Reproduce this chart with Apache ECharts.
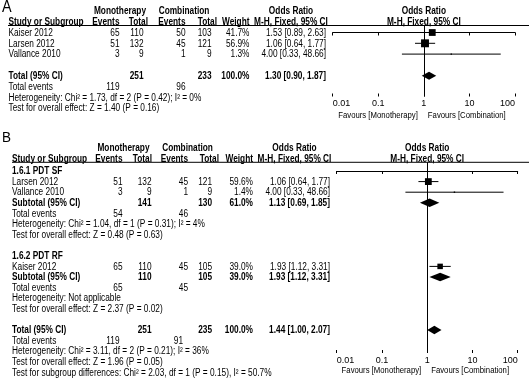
<!DOCTYPE html>
<html><head><meta charset="utf-8">
<script src="https://cdn.jsdelivr.net/npm/echarts@6/dist/echarts.min.js"></script>
<style>html,body{margin:0;padding:0;background:#fff}#c{width:529px;height:386px}</style>
</head><body><div id="c"></div>
<script>
// ---------------- DATA ----------------
const tickValues = [0.01, 0.1, 1, 10, 100];
const tickLabels = ['0.01', '0.1', '1', '10', '100'];
const favourLabels = ['Favours [Monotherapy]', 'Favours [Combination]'];

// Panel A
const aStudies    = ['Kaiser 2012', 'Larsen 2012', 'Vallance 2010'];
const aMonoEvents = [65, 51, 3];
const aMonoTotal  = [110, 132, 9];
const aCombEvents = [50, 45, 1];
const aCombTotal  = [103, 121, 9];
const aWeight     = [41.7, 56.9, 1.3];
const aOR         = [1.53, 1.06, 4.00];
const aLow        = [0.89, 0.64, 0.33];
const aHigh       = [2.63, 1.77, 48.66];
const aTotalN      = [251, 233];      // mono total, comb total
const aTotalEvents = [119, 96];
const aTotalEst    = [1.30, 0.90, 1.87];
const aTotalWeight = 100.0;
const aHet  = 'Heterogeneity: Chi² = 1.73, df = 2 (P = 0.42); I² = 0%';
const aTest = 'Test for overall effect: Z = 1.40 (P = 0.16)';

// Panel B
const bGroups = ['1.6.1 PDT SF', '1.6.2 PDT RF'];
const bStudies    = ['Larsen 2012', 'Vallance 2010', 'Kaiser 2012'];
const bGroupOf    = [0, 0, 1];
const bMonoEvents = [51, 3, 65];
const bMonoTotal  = [132, 9, 110];
const bCombEvents = [45, 1, 45];
const bCombTotal  = [121, 9, 105];
const bWeight     = [59.6, 1.4, 39.0];
const bOR         = [1.06, 4.00, 1.93];
const bLow        = [0.64, 0.33, 1.12];
const bHigh       = [1.77, 48.66, 3.31];
const bSubN       = [[141, 130], [110, 105]];
const bSubWeight  = [61.0, 39.0];
const bSubEst     = [[1.13, 0.69, 1.85], [1.93, 1.12, 3.31]];
const bSubEvents  = [[54, 46], [65, 45]];
const bSubHet     = ['Heterogeneity: Chi² = 1.04, df = 1 (P = 0.31); I² = 4%', 'Heterogeneity: Not applicable'];
const bSubTest    = ['Test for overall effect: Z = 0.48 (P = 0.63)', 'Test for overall effect: Z = 2.37 (P = 0.02)'];
const bTotalN      = [251, 235];
const bTotalEvents = [119, 91];
const bTotalEst    = [1.44, 1.00, 2.07];
const bTotalWeight = 100.0;
const bHet  = 'Heterogeneity: Chi² = 3.11, df = 2 (P = 0.21); I² = 36%';
const bTest = 'Test for overall effect: Z = 1.96 (P = 0.05)';
const bSubTestDiff = 'Test for subgroup differences: Chi² = 2.03, df = 1 (P = 0.15), I² = 50.7%';

// ---------------- LAYOUT ----------------
const W = 529, H = 386;
const FONT = '"Liberation Sans", Arial, sans-serif';
const SX = 0.83;
const LA = {left: 332.7, right: 14, top: 25.5, axisY: 96.5, ymin: -0.65, ymax: 5.93};
const LB = {left: 336.7, right: 11.3, top: 162.3, axisY: 353, ymin: -0.82, ymax: 17.17};
// row indices (layout)
const aStudyRows = [0, 1, 2], aTotalRow = 4;
const bStudyRows = [1, 2, 9], bTitleRows = [0, 8], bSubRows = [3, 10], bTotalRow = 15;

function rowY(L, r) { return L.top + (r - L.ymin) / (L.ymax - L.ymin) * (L.axisY - L.top); }
const fmt2 = v => v.toFixed(2);
const orText = (o, l, h) => `${fmt2(o)} [${fmt2(l)}, ${fmt2(h)}]`;

function squareRender(k) {
  return function (params, api) {
    const y = api.value(3);
    const p = api.coord([api.value(0), y]);
    const l = api.coord([api.value(1), y]);
    const h = api.coord([api.value(2), y]);
    const s = Math.max(1.4, k * Math.sqrt(api.value(4)));
    return {type: 'group', children: [
      {type: 'line', shape: {x1: l[0], y1: p[1], x2: h[0], y2: p[1]}, style: {stroke: '#000', lineWidth: 1}},
      {type: 'rect', shape: {x: p[0] - s / 2, y: p[1] - s / 2, width: s, height: s}, style: {fill: '#000'}}
    ]};
  };
}
function diamondRender(hh) {
  return function (params, api) {
    const y = api.value(3);
    const p = api.coord([api.value(0), y]);
    const l = api.coord([api.value(1), y]);
    const h = api.coord([api.value(2), y]);
    return {type: 'polygon', shape: {points: [[l[0], p[1]], [p[0], p[1] - hh], [h[0], p[1]], [p[0], p[1] + hh]]}, style: {fill: '#000'}};
  };
}
function tickFmt(v) {
  const i = tickValues.findIndex(t => Math.abs(Math.log10(t) - Math.log10(v)) < 1e-6);
  return i >= 0 ? tickLabels[i] : '';
}
function xAxes(grid) {
  const base = {gridIndex: grid, type: 'log', logBase: 10, min: tickValues[0], max: tickValues[tickValues.length - 1],
    position: 'bottom', splitLine: {show: false}, minorTick: {show: false}};
  return [
    Object.assign({}, base, {
      axisLine: {show: true, lineStyle: {color: '#000', width: 1}},
      axisTick: {show: true, inside: false, length: 3, lineStyle: {color: '#000'}},
      axisLabel: {show: true, formatter: tickFmt, color: '#000', fontSize: 9, fontFamily: FONT, margin: 3,
        alignMinLabel: 'left', alignMaxLabel: 'right'}
    }),
    Object.assign({}, base, {
      axisLine: {show: false},
      axisTick: {show: true, inside: true, length: 3, lineStyle: {color: '#000'}},
      axisLabel: {show: false}
    })
  ];
}
const vline = {silent: true, symbol: 'none', label: {show: false}, animation: false,
  lineStyle: {color: '#000', width: 1, type: 'solid'}, data: [{xAxis: 1}]};

const aSq = aStudies.map((_, i) => [aOR[i], aLow[i], aHigh[i], aStudyRows[i], aWeight[i]]);
const aDia = [[aTotalEst[0], aTotalEst[1], aTotalEst[2], aTotalRow]];
const bSq = bStudies.map((_, i) => [bOR[i], bLow[i], bHigh[i], bStudyRows[i], bWeight[i]]);
const bDia = bSubEst.map((e, g) => [e[0], e[1], e[2], bSubRows[g]]).concat([[bTotalEst[0], bTotalEst[1], bTotalEst[2], bTotalRow]]);

const chart = echarts.init(document.getElementById('c'));
chart.setOption({
  animation: false,
  backgroundColor: '#fff',
  grid: [
    {left: LA.left, right: LA.right, top: LA.top, bottom: H - LA.axisY, containLabel: false},
    {left: LB.left, right: LB.right, top: LB.top, bottom: H - LB.axisY, containLabel: false}
  ],
  xAxis: xAxes(0).concat(xAxes(1)),
  yAxis: [
    {gridIndex: 0, type: 'value', min: LA.ymin, max: LA.ymax, inverse: true, show: false},
    {gridIndex: 1, type: 'value', min: LB.ymin, max: LB.ymax, inverse: true, show: false}
  ],
  series: [
    {type: 'custom', xAxisIndex: 0, yAxisIndex: 0, data: aSq, encode: {x: 0, y: 3}, renderItem: squareRender(1.05), markLine: vline},
    {type: 'custom', xAxisIndex: 0, yAxisIndex: 0, data: aDia, encode: {x: 0, y: 3}, renderItem: diamondRender(4)},
    {type: 'custom', xAxisIndex: 2, yAxisIndex: 1, data: bSq, encode: {x: 0, y: 3}, renderItem: squareRender(0.88), markLine: vline},
    {type: 'custom', xAxisIndex: 2, yAxisIndex: 1, data: bDia, encode: {x: 0, y: 3}, renderItem: diamondRender(4.2)}
  ]
});

// ---------------- TEXT (graphic) ----------------
const G = [];
function T(x, y, s, align, bold, size, sx) {
  G.push({type: 'text', x: x, y: y, scaleX: sx === undefined ? SX : sx, silent: true,
    style: {text: String(s), fill: '#000', fontSize: size || 10, fontFamily: FONT, fontWeight: bold ? 'bold' : 'normal',
      textAlign: align || 'left', textVerticalAlign: 'middle'}});
}
function L(x1, y1, x2, y2) {
  G.push({type: 'line', silent: true, shape: {x1, y1, x2, y2}, style: {stroke: '#000', lineWidth: 1}});
}
const oneA = chart.convertToPixel({xAxisIndex: 0}, 1);
const oneB = chart.convertToPixel({xAxisIndex: 2}, 1);

// Panel A
(function () {
  const c = {name: 8.5, me: 119.5, mt: 143.5, ce: 185.5, ct: 211.5, w: 249.5, or: 326};
  T(2, 8, 'A', 'left', false, 16, 0.9);
  T(120, 11, 'Monotherapy', 'center', true); T(184, 11, 'Combination', 'center', true);
  T(291, 11, 'Odds Ratio', 'center', true); T(oneA, 11, 'Odds Ratio', 'center', true);
  T(c.name, 22, 'Study or Subgroup', 'left', true); T(c.me, 22, 'Events', 'right', true);
  T(148, 22, 'Total', 'right', true); T(c.ce, 22, 'Events', 'right', true);
  T(217, 22, 'Total', 'right', true); T(c.w, 22, 'Weight', 'right', true);
  T(291, 22, 'M-H, Fixed, 95% CI', 'center', true); T(oneA, 22, 'M-H, Fixed, 95% CI', 'center', true);
  L(8, 25.5, W, 25.5);
  aStudies.forEach((s, i) => {
    const y = rowY(LA, aStudyRows[i]) + 0.5;
    T(c.name, y, s); T(c.me, y, aMonoEvents[i], 'right'); T(c.mt, y, aMonoTotal[i], 'right');
    T(c.ce, y, aCombEvents[i], 'right'); T(c.ct, y, aCombTotal[i], 'right');
    T(c.w, y, aWeight[i].toFixed(1) + '%', 'right'); T(c.or, y, orText(aOR[i], aLow[i], aHigh[i]), 'right');
  });
  let y = rowY(LA, aTotalRow) + 0.5;
  T(c.name, y, 'Total (95% CI)', 'left', true); T(c.mt, y, aTotalN[0], 'right', true);
  T(c.ct, y, aTotalN[1], 'right', true); T(c.w, y, aTotalWeight.toFixed(1) + '%', 'right', true);
  T(c.or, y, orText(aTotalEst[0], aTotalEst[1], aTotalEst[2]), 'right', true);
  y = rowY(LA, aTotalRow + 1) + 0.5;
  T(c.name, y, 'Total events'); T(c.me, y, aTotalEvents[0], 'right'); T(c.ce, y, aTotalEvents[1], 'right');
  T(c.name, rowY(LA, aTotalRow + 2) + 0.5, aHet);
  T(c.name, rowY(LA, aTotalRow + 3) + 0.5, aTest);
  T(oneA - 6, 115.5, favourLabels[0], 'right', false, 9, 0.86);
  T(oneA + 4, 115.5, favourLabels[1], 'left', false, 9, 0.86);
})();

// Panel B
(function () {
  const c = {name: 12, me: 122.5, mt: 151.5, ce: 188, ct: 212, w: 253, or: 330};
  T(2, 138, 'B', 'left', false, 15, 0.9);
  T(123.5, 148.5, 'Monotherapy', 'center', true); T(187.5, 148.5, 'Combination', 'center', true);
  T(294.5, 148.5, 'Odds Ratio', 'center', true); T(oneB, 148.5, 'Odds Ratio', 'center', true);
  T(c.name, 159, 'Study or Subgroup', 'left', true); T(c.me, 159, 'Events', 'right', true);
  T(152, 159, 'Total', 'right', true); T(c.ce, 159, 'Events', 'right', true);
  T(219, 159, 'Total', 'right', true); T(c.w, 159, 'Weight', 'right', true);
  T(294.5, 159, 'M-H, Fixed, 95% CI', 'center', true); T(oneB, 159, 'M-H, Fixed, 95% CI', 'center', true);
  L(12, 162.3, W, 162.3);
  bGroups.forEach((g, gi) => {
    T(c.name, rowY(LB, bTitleRows[gi]) + 0.5, g, 'left', true);
  });
  bStudies.forEach((s, i) => {
    const y = rowY(LB, bStudyRows[i]) + 0.5;
    T(c.name, y, s); T(c.me, y, bMonoEvents[i], 'right'); T(c.mt, y, bMonoTotal[i], 'right');
    T(c.ce, y, bCombEvents[i], 'right'); T(c.ct, y, bCombTotal[i], 'right');
    T(c.w, y, bWeight[i].toFixed(1) + '%', 'right'); T(c.or, y, orText(bOR[i], bLow[i], bHigh[i]), 'right');
  });
  bGroups.forEach((g, gi) => {
    const r = bSubRows[gi];
    let y = rowY(LB, r) + 0.5;
    T(c.name, y, 'Subtotal (95% CI)', 'left', true); T(c.mt, y, bSubN[gi][0], 'right', true);
    T(c.ct, y, bSubN[gi][1], 'right', true); T(c.w, y, bSubWeight[gi].toFixed(1) + '%', 'right', true);
    T(c.or, y, orText(bSubEst[gi][0], bSubEst[gi][1], bSubEst[gi][2]), 'right', true);
    y = rowY(LB, r + 1) + 0.5;
    T(c.name, y, 'Total events'); T(c.me, y, bSubEvents[gi][0], 'right'); T(c.ce, y, bSubEvents[gi][1], 'right');
    T(c.name, rowY(LB, r + 2) + 0.5, bSubHet[gi]);
    T(c.name, rowY(LB, r + 3) + 0.5, bSubTest[gi]);
  });
  let y = rowY(LB, bTotalRow) + 0.5;
  T(c.name, y, 'Total (95% CI)', 'left', true); T(c.mt, y, bTotalN[0], 'right', true);
  T(c.ct, y, bTotalN[1], 'right', true); T(c.w, y, bTotalWeight.toFixed(1) + '%', 'right', true);
  T(c.or, y, orText(bTotalEst[0], bTotalEst[1], bTotalEst[2]), 'right', true);
  y = rowY(LB, bTotalRow + 1) + 0.5;
  T(c.name, y, 'Total events'); T(c.me - 3, y, bTotalEvents[0], 'right'); T(c.ce - 5, y, bTotalEvents[1], 'right');
  T(c.name, rowY(LB, bTotalRow + 2) + 0.5, bHet);
  T(c.name, rowY(LB, bTotalRow + 3) + 0.5, bTest);
  T(c.name, rowY(LB, bTotalRow + 4) + 0.5, bSubTestDiff);
  T(oneB - 6, 371, favourLabels[0], 'right', false, 9, 0.86);
  T(oneB + 4, 371, favourLabels[1], 'left', false, 9, 0.86);
})();

chart.setOption({graphic: {elements: G}});
</script>
</body></html>
